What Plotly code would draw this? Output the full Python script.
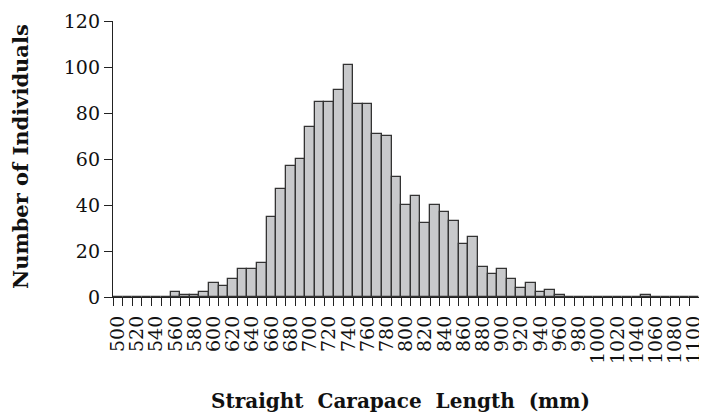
import plotly.graph_objects as go

# Bin starts (mm), 10 mm bins from 500 to 1100
bins = [str(v) for v in range(500, 1101, 10)]
counts = [
    0, 0, 0, 0, 0, 0, 2, 1, 1, 2,          # 500-590
    6, 5, 8, 12, 12, 15, 35, 47, 57, 60,   # 600-690
    74, 85, 85, 90, 101, 84, 84, 71, 70, 52,  # 700-790
    40, 44, 32, 40, 37, 33, 23, 26, 13, 10,   # 800-890
    12, 8, 4, 6, 2, 3, 1, 0, 0, 0,         # 900-990
    0, 0, 0, 0, 0, 1, 0, 0, 0, 0,          # 1000-1090
    0                                      # 1100
]
tick_text = [b if (int(b) - 500) % 20 == 0 else "" for b in bins]
y_ticks = [0, 20, 40, 60, 80, 100, 120]
x_title = "Straight\u00a0 Carapace\u00a0 Length\u00a0 (mm)"
y_title = "Number of Individuals"

font_family = "DejaVu Serif"
# page body has an 8px default margin: size figure so it fills the 707x419 window
OFF = 8
W, H = 707 - OFF, 419 - OFF
# plot area in window pixels: x 113..699, y 21..297
PX0, PX1, PY0, PY1 = 113, 699, 21, 297
L, R, T = PX0 - OFF, W - (PX1 - OFF), PY0 - OFF
B = H - (PY1 - OFF)
pw, ph = PX1 - PX0, PY1 - PY0


def px(wx):
    return (wx - PX0) / pw


def py(wy):
    return (PY1 - wy) / ph


fig = go.Figure(go.Bar(
    x=bins, y=counts,
    marker=dict(color="#c8c9cb", line=dict(color="#333333", width=1.3)),
))

fig.update_layout(
    width=W, height=H,
    margin=dict(l=L, r=R, t=T, b=B, autoexpand=False),
    paper_bgcolor="white", plot_bgcolor="white",
    bargap=0, showlegend=False,
    font=dict(family=font_family, size=18, color="#111111"),
    annotations=[
        dict(text="<b>" + x_title + "</b>", xref="paper", yref="paper",
             x=px(400), y=py(401), xanchor="center", yanchor="middle",
             showarrow=False, font=dict(size=20)),
        dict(text="<b>" + y_title + "</b>", xref="paper", yref="paper",
             x=px(20), y=py(157), xanchor="center", yanchor="middle",
             textangle=-90, showarrow=False, font=dict(size=21)),
    ],
)
fig.update_xaxes(
    type="category", automargin=False,
    tickmode="array", tickvals=bins, ticktext=tick_text,
    tickson="boundaries", ticks="outside", ticklen=8, tickwidth=1.2, tickcolor="#222222",
    tickangle=-90, tickfont=dict(size=19, family=font_family), ticklabelstandoff=10,
    showline=True, linecolor="#222222", linewidth=1.3,
    showgrid=False, zeroline=False,
)
fig.update_yaxes(
    range=[0, 120], tickvals=y_ticks, automargin=False,
    ticks="outside", ticklen=8, tickwidth=1.2, tickcolor="#222222",
    tickfont=dict(size=19),
    showline=True, linecolor="#222222", linewidth=1.3,
    showgrid=False, zeroline=False,
)

fig.write_html("out.html")
